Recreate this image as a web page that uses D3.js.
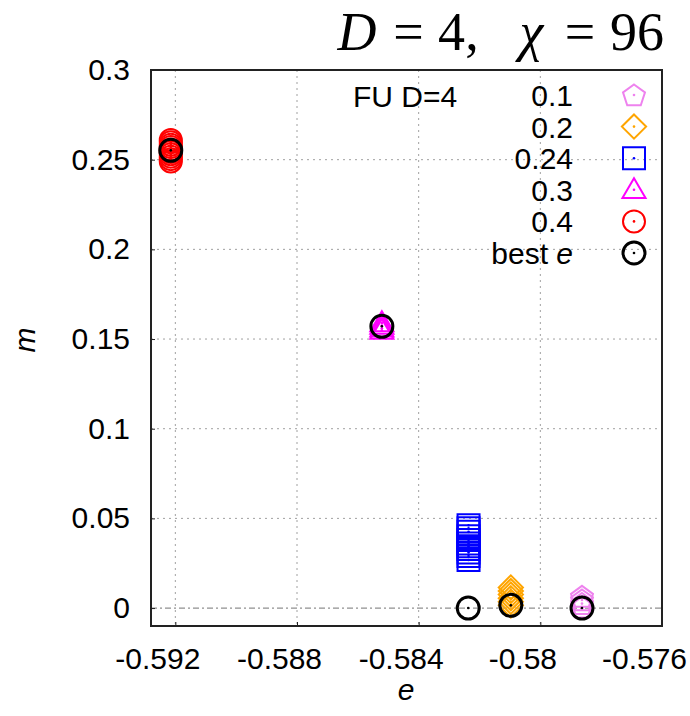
<!DOCTYPE html>
<html>
<head>
<meta charset="utf-8">
<script src="https://cdn.jsdelivr.net/npm/d3@7"></script>
<style>
  body { margin: 0; background: #fff; }
  svg { display: block; }
</style>
</head>
<body>
<svg id="chart" width="690" height="716"></svg>
<script>
// Magnetisation m versus energy e, one series per parameter value
const seriesNames = ["0.1", "0.2", "0.24", "0.3", "0.4"];
const seriesColors = ["#ee82ee", "#ffa500", "#0000ff", "#ff00ff", "#ff0000"];
const seriesShapes = ["pentagon", "diamond", "square", "triangle", "circle"];

const eValues01 = [-0.57863, -0.57863, -0.57863, -0.57863];
const mValues01 = [0.0065, 0.0045, 0.0025, 0.0005];
const eValues02 = [-0.58097, -0.58097, -0.58097, -0.58097, -0.58097, -0.58097];
const mValues02 = [0.0115, 0.0095, 0.0075, 0.0055, 0.0035, 0.0015];
const eValues024 = [-0.58236, -0.58236, -0.58236, -0.58236, -0.58236, -0.58236, -0.58236, -0.58236, -0.58236, -0.58236, -0.58236];
const mValues024 = [0.0462, 0.0445, 0.0425, 0.0400, 0.0380, 0.0360, 0.0345, 0.0330, 0.0310, 0.0290, 0.0268];
const eValues03 = [-0.58521, -0.58521, -0.58521, -0.58521];
const mValues03 = [0.1590, 0.1575, 0.1560, 0.1548];
const eValues04 = [-0.59215, -0.59215, -0.59215, -0.59215, -0.59215, -0.59215, -0.59215, -0.59215, -0.59215, -0.59215];
const mValues04 = [0.2610, 0.2597, 0.2583, 0.2570, 0.2557, 0.2543, 0.2530, 0.2517, 0.2503, 0.2490];

// lowest-energy point for each parameter value
const bestE = [-0.57863, -0.58097, -0.58237, -0.58521, -0.59215];
const bestM = [0.0000, 0.0015, 0.0000, 0.1571, 0.2552];

const xTicks = [-0.592, -0.588, -0.584, -0.580, -0.576];
const xTickLabels = ["-0.592", "-0.588", "-0.584", "-0.58", "-0.576"];
const yTicks = [0, 0.05, 0.1, 0.15, 0.2, 0.25, 0.3];
const yTickLabels = ["0", "0.05", "0.1", "0.15", "0.2", "0.25", "0.3"];

const series = [
  { e: eValues01, m: mValues01 },
  { e: eValues02, m: mValues02 },
  { e: eValues024, m: mValues024 },
  { e: eValues03, m: mValues03 },
  { e: eValues04, m: mValues04 }
].map((s, i) => ({ name: seriesNames[i], color: seriesColors[i], shape: seriesShapes[i],
                   points: s.e.map((e, k) => ({ e, m: s.m[k] })) }));

const sans = "'Liberation Sans', Arial, Helvetica, sans-serif";
const serif = "'Liberation Serif', 'Times New Roman', serif";

const svg = d3.select("#chart");
const pLeft = 151, pRight = 662, pTop = 70, pBottom = 626;

const x = d3.scaleLinear().domain([-0.5928, -0.576]).range([pLeft, pRight]);
const y = d3.scaleLinear().domain([-0.01, 0.3]).range([pBottom, pTop]);

// grid
const grid = svg.append("g").attr("stroke", "#a0a0a0").attr("stroke-width", 1)
  .attr("stroke-dasharray", "2,4");
xTicks.forEach(t => grid.append("line")
  .attr("x1", x(t)).attr("x2", x(t)).attr("y1", pTop).attr("y2", pBottom));
yTicks.filter(t => t !== 0).forEach(t => grid.append("line")
  .attr("x1", pLeft).attr("x2", pRight).attr("y1", y(t)).attr("y2", y(t)));

// zero line
svg.append("line").attr("x1", pLeft).attr("x2", pRight).attr("y1", y(0)).attr("y2", y(0))
  .attr("stroke", "#909090").attr("stroke-width", 1.2).attr("stroke-dasharray", "6,3,2,3");

// axes with inward ticks
const xAxis = d3.axisBottom(x).tickValues(xTicks).tickFormat((d, i) => xTickLabels[i])
  .tickSizeInner(-4).tickSizeOuter(0).tickPadding(20);
const yAxis = d3.axisLeft(y).tickValues(yTicks).tickFormat((d, i) => yTickLabels[i])
  .tickSizeInner(-4).tickSizeOuter(0).tickPadding(21);

const gx = svg.append("g").attr("transform", `translate(0,${pBottom})`).call(xAxis);
const gy = svg.append("g").attr("transform", `translate(${pLeft},0)`).call(yAxis);
[gx, gy].forEach(g => {
  g.select(".domain").remove();
  g.selectAll(".tick line").attr("stroke", "#222").attr("stroke-width", 1);
  g.selectAll("text").style("font-size", "30px").style("font-family", sans).attr("fill", "#000");
});
gx.selectAll("text").attr("dy", "0.75em").attr("dx", -18);

// frame
svg.append("rect").attr("x", pLeft).attr("y", pTop).attr("width", pRight - pLeft)
  .attr("height", pBottom - pTop).attr("fill", "none").attr("stroke", "#222").attr("stroke-width", 2);

// marker shapes
function shapePath(shape, r) {
  if (shape === "circle") return d3.symbol(d3.symbolCircle, Math.PI * r * r)();
  if (shape === "square") return `M${-r},${-r}H${r}V${r}H${-r}Z`;
  if (shape === "diamond") return `M0,${-r * 1.1}L${r * 1.1},0L0,${r * 1.1}L${-r * 1.1},0Z`;
  if (shape === "triangle") return `M0,${-r * 1.05}L${r * 1.05},${r * 0.75}L${-r * 1.05},${r * 0.75}Z`;
  if (shape === "pentagon") {
    const pts = d3.range(5).map(k => {
      const a = -Math.PI / 2 + k * 2 * Math.PI / 5;
      return [r * 1.05 * Math.cos(a), r * 1.05 * Math.sin(a) + 1];
    });
    return "M" + pts.map(p => p.join(",")).join("L") + "Z";
  }
}

function drawMarker(g, shape, color, cx, cy, r, sw) {
  const m = g.append("g").attr("transform", `translate(${cx},${cy})`);
  m.append("path").attr("d", shapePath(shape, r)).attr("fill", "none")
    .attr("stroke", color).attr("stroke-width", sw);
  m.append("circle").attr("r", 1.3).attr("fill", color);
}

const markerR = 11;
const plot = svg.append("g");
series.forEach(s => {
  s.points.forEach(p => drawMarker(plot, s.shape, s.color, x(p.e), y(p.m), markerR, 2));
});
bestE.forEach((e, i) => drawMarker(plot, "circle", "#000", x(e), y(bestM[i]), markerR, 3));

// legend
const legend = svg.append("g");
legend.append("text").attr("x", 353).attr("y", 107).style("font-size", "30px")
  .style("font-family", sans).text("FU D=4");
const legendRows = seriesNames.map((n, i) => ({ label: n, color: seriesColors[i], shape: seriesShapes[i] }));
legendRows.push({ label: "best", color: "#000", shape: "circle", best: true });
legendRows.forEach((row, i) => {
  const yy = 95 + i * 31.6;
  const t = legend.append("text").attr("x", 573).attr("y", yy + 11).style("font-size", "30px")
    .style("font-family", sans).attr("text-anchor", "end");
  if (row.best) {
    t.append("tspan").text("best ");
    t.append("tspan").style("font-style", "italic").text("e");
  } else {
    t.text(row.label);
  }
  drawMarker(legend, row.shape, row.color, 634, yy, markerR, row.best ? 3 : 2);
});

// axis titles
svg.append("text").attr("x", 406).attr("y", 700).attr("text-anchor", "middle")
  .style("font-size", "30px").style("font-family", sans).style("font-style", "italic").text("e");
svg.append("text").attr("transform", "translate(35,340) rotate(-90)").attr("text-anchor", "middle")
  .style("font-size", "30px").style("font-family", sans).style("font-style", "italic").text("m");

// title, typeset glyph by glyph with math spacing
const titleParts = [
  { t: "D", cx: 357, it: true },
  { t: "=", cx: 408.5 },
  { t: "4", cx: 451.5 },
  { t: ",", cx: 472 },
  { t: "χ", cx: 531.5, it: true },
  { t: "=", cx: 580 },
  { t: "96", cx: 637 }
];
const title = svg.append("text").attr("y", 50).attr("text-anchor", "middle")
  .style("font-size", "54px").style("font-family", serif);
titleParts.forEach(p => {
  title.append("tspan").attr("x", p.cx).style("font-style", p.it ? "italic" : "normal").text(p.t);
});
</script>
</body>
</html>
